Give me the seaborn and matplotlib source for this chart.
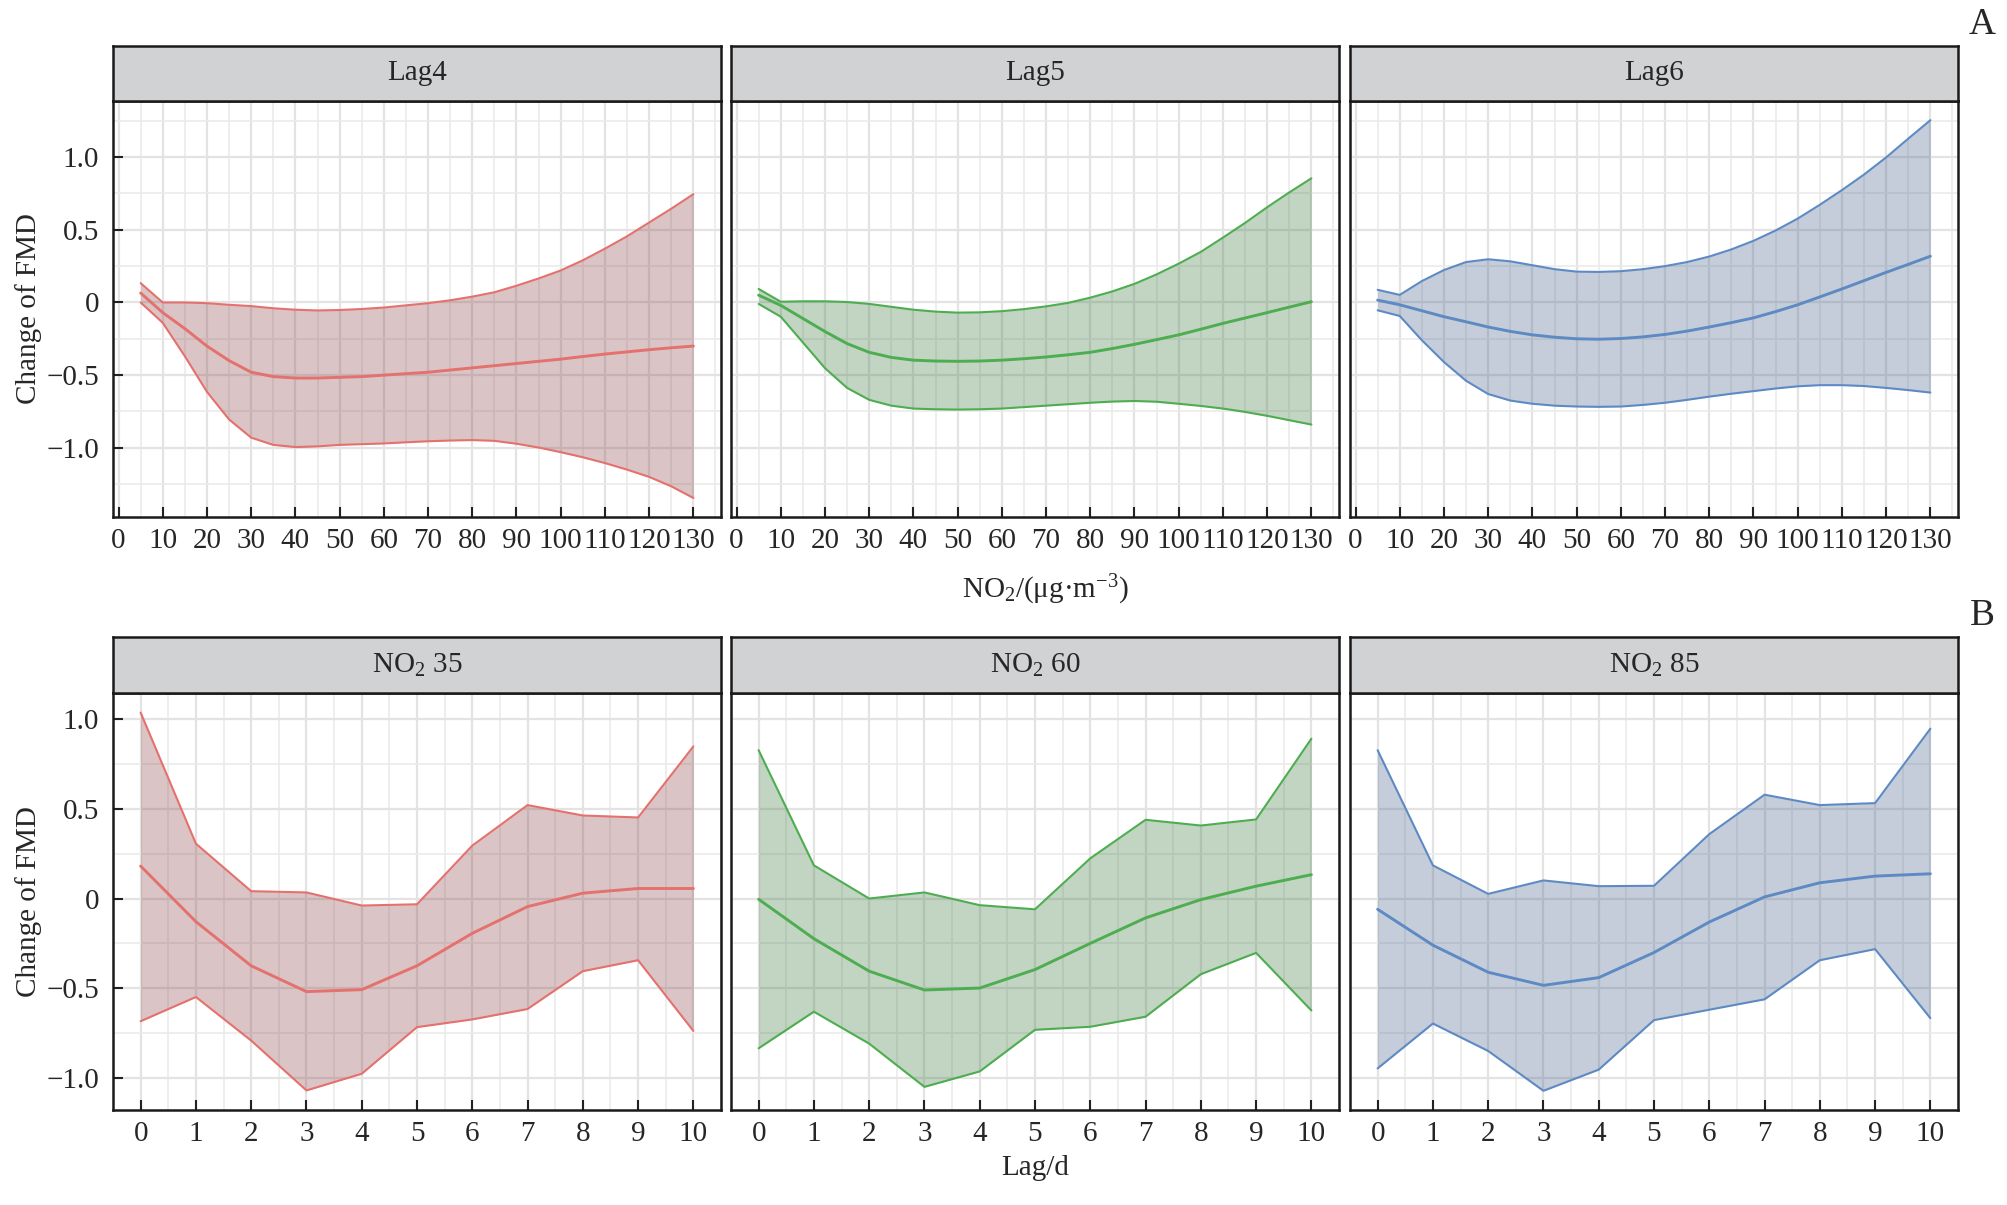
import pandas as pd
import matplotlib
matplotlib.use("Agg")
import matplotlib.pyplot as plt
from matplotlib.ticker import MultipleLocator, FixedLocator, FixedFormatter
import seaborn as sns

# 样式
sns.set_theme(style="white")
plt.rcParams['font.family'] = ['Liberation Serif', 'DejaVu Serif']
plt.rcParams['mathtext.fontset'] = 'custom'
plt.rcParams['mathtext.rm'] = 'Liberation Serif'
plt.rcParams['mathtext.it'] = 'Liberation Serif:italic'
plt.rcParams['axes.unicode_minus'] = True

# ---- A: 暴露-反应曲线 ----
no2_x = [5, 10, 15, 20, 25, 30, 35, 40, 45, 50, 55, 60, 65, 70, 75, 80, 85,
         90, 95, 100, 105, 110, 115, 120, 125, 130]

lag4_hi = [0.133, 0.0, 0.0, -0.005, -0.016, -0.025, -0.04, -0.05, -0.055, -0.052, -0.045, -0.035, -0.02,
           -0.005, 0.015, 0.04, 0.07, 0.115, 0.165, 0.22, 0.29, 0.37, 0.455, 0.55, 0.645, 0.745]
lag4_mid = [0.065, -0.07, -0.18, -0.30, -0.40, -0.48, -0.51, -0.52, -0.52, -0.515, -0.51, -0.50, -0.49,
            -0.48, -0.465, -0.45, -0.435, -0.42, -0.405, -0.39, -0.372, -0.355, -0.34, -0.325, -0.312, -0.30]
lag4_lo = [0.0, -0.14, -0.37, -0.615, -0.805, -0.93, -0.98, -0.995, -0.99, -0.98, -0.975, -0.97, -0.962,
           -0.955, -0.95, -0.947, -0.952, -0.972, -0.998, -1.03, -1.065, -1.105, -1.15, -1.2, -1.265, -1.345]

lag5_hi = [0.093, 0.005, 0.008, 0.008, 0.003, -0.01, -0.03, -0.05, -0.063, -0.07, -0.068, -0.06, -0.046,
           -0.027, -0.003, 0.033, 0.076, 0.128, 0.193, 0.267, 0.348, 0.446, 0.547, 0.655, 0.757, 0.854]
lag5_mid = [0.05, -0.02, -0.11, -0.2, -0.283, -0.343, -0.378, -0.397, -0.403, -0.405, -0.403, -0.397, -0.387,
            -0.375, -0.36, -0.343, -0.317, -0.288, -0.256, -0.223, -0.184, -0.144, -0.107, -0.07, -0.032, 0.005]
lag5_lo = [-0.01, -0.098, -0.275, -0.452, -0.588, -0.67, -0.71, -0.73, -0.735, -0.737, -0.735, -0.73, -0.72,
           -0.71, -0.70, -0.69, -0.682, -0.678, -0.683, -0.697, -0.712, -0.73, -0.753, -0.78, -0.81, -0.84]

lag6_hi = [0.087, 0.052, 0.147, 0.223, 0.278, 0.297, 0.283, 0.256, 0.229, 0.212, 0.21, 0.215, 0.229,
           0.25, 0.278, 0.316, 0.365, 0.424, 0.495, 0.577, 0.672, 0.773, 0.88, 0.998, 1.127, 1.254]
lag6_mid = [0.016, -0.016, -0.057, -0.098, -0.133, -0.169, -0.199, -0.223, -0.239, -0.25, -0.253, -0.248, -0.237,
            -0.22, -0.197, -0.169, -0.139, -0.106, -0.063, -0.016, 0.038, 0.093, 0.15, 0.207, 0.262, 0.318]
lag6_lo = [-0.054, -0.093, -0.26, -0.41, -0.539, -0.63, -0.675, -0.697, -0.71, -0.716, -0.718, -0.716, -0.705,
           -0.69, -0.67, -0.648, -0.628, -0.61, -0.592, -0.577, -0.569, -0.569, -0.575, -0.588, -0.603, -0.62]

# ---- B: 滞后-反应曲线 ----
lag_x = [0, 1, 2, 3, 4, 5, 6, 7, 8, 9, 10]

c35_hi = [1.037, 0.306, 0.041, 0.034, -0.039, -0.032, 0.295, 0.521, 0.463, 0.452, 0.848]
c35_mid = [0.181, -0.129, -0.375, -0.519, -0.508, -0.375, -0.194, -0.045, 0.03, 0.056, 0.056]
c35_lo = [-0.684, -0.549, -0.792, -1.07, -0.977, -0.717, -0.674, -0.616, -0.405, -0.344, -0.738]

c60_hi = [0.827, 0.185, 0.0, 0.034, -0.037, -0.06, 0.224, 0.439, 0.407, 0.441, 0.891]
c60_mid = [-0.004, -0.224, -0.405, -0.51, -0.499, -0.396, -0.25, -0.108, -0.006, 0.069, 0.133]
c60_lo = [-0.835, -0.631, -0.809, -1.05, -0.964, -0.732, -0.715, -0.659, -0.422, -0.303, -0.624]

c85_hi = [0.827, 0.185, 0.026, 0.101, 0.069, 0.071, 0.359, 0.579, 0.521, 0.532, 0.947]
c85_mid = [-0.06, -0.26, -0.411, -0.484, -0.441, -0.301, -0.131, 0.009, 0.088, 0.125, 0.138]
c85_lo = [-0.947, -0.697, -0.85, -1.072, -0.954, -0.678, -0.62, -0.562, -0.344, -0.282, -0.667]

top_titles = ['Lag4', 'Lag5', 'Lag6']
bottom_titles = [r'NO$_2$ 35', r'NO$_2$ 60', r'NO$_2$ 85']
top_xticks = [0, 10, 20, 30, 40, 50, 60, 70, 80, 90, 100, 110, 120, 130]
bottom_xticks = [0, 1, 2, 3, 4, 5, 6, 7, 8, 9, 10]
yticks = [-1.0, -0.5, 0, 0.5, 1.0]
ytick_labels = ['\u22121.0', '\u22120.5', '0', '0.5', '1.0']

line_colors = ['#E4716D', '#4DAD50', '#5E8AC4']
fill_colors = ['#8A3E41', '#347637', '#3E5C84']

W, H = 2008, 1205
col_left = [113, 731, 1350]
col_w = 608
rows = [  # (strip top, panel top, panel bottom)
    (46, 101, 517),
    (637, 693, 1110),
]

fig = plt.figure(figsize=(W / 100, H / 100), dpi=100)
FS = 21


def add_panel(row, col, x, lo, mid, hi, title, xticks, xlim, ylim, minor_x):
    st, pt, pb = rows[row]
    left = col_left[col] / W
    ax = fig.add_axes([left, 1 - pb / H, col_w / W, (pb - pt) / H])
    sax = fig.add_axes([left, 1 - pt / H, col_w / W, (pt - st) / H])

    df = pd.DataFrame({'x': x, 'lo': lo, 'mid': mid, 'hi': hi})
    ax.fill_between(df['x'], df['lo'], df['hi'], color=fill_colors[col], alpha=0.3, lw=0, zorder=2)
    sns.lineplot(data=df, x='x', y='hi', ax=ax, color=line_colors[col], lw=1.5, zorder=3)
    sns.lineplot(data=df, x='x', y='lo', ax=ax, color=line_colors[col], lw=1.5, zorder=3)
    sns.lineplot(data=df, x='x', y='mid', ax=ax, color=line_colors[col], lw=2.1, zorder=4)

    ax.set_xlim(*xlim)
    ax.set_ylim(*ylim)
    ax.xaxis.set_major_locator(FixedLocator(xticks))
    ax.xaxis.set_minor_locator(MultipleLocator(minor_x))
    ax.yaxis.set_major_locator(FixedLocator(yticks))
    ax.yaxis.set_minor_locator(MultipleLocator(0.25))
    ax.set_axisbelow(True)
    ax.grid(which='major', color='#E3E3E3', lw=1.6)
    ax.grid(which='minor', color='#EBEBEB', lw=1.2)
    ax.tick_params(axis='x', which='major', direction='in', length=7.5, width=1.5,
                   color='#222222', labelsize=FS, pad=8, bottom=True)
    ax.tick_params(axis='y', which='major', direction='in', length=7.5, width=1.5,
                   color='#222222', labelsize=FS, pad=10, left=(col == 0))
    ax.tick_params(which='minor', length=0)
    ax.set_xticklabels([str(t) for t in xticks])
    if col == 0:
        ax.yaxis.set_major_formatter(FixedFormatter(ytick_labels))
        ax.set_ylabel('Change of FMD', fontsize=FS, labelpad=3)
    else:
        ax.set_yticklabels([])
        ax.set_ylabel('')
    ax.set_xlabel('')
    for sp in ax.spines.values():
        sp.set_visible(True)
        sp.set_color('#1a1a1a')
        sp.set_linewidth(1.8)

    sax.set_facecolor('#D1D2D4')
    sax.set_xticks([])
    sax.set_yticks([])
    for sp in sax.spines.values():
        sp.set_visible(True)
        sp.set_color('#1a1a1a')
        sp.set_linewidth(1.8)
    sax.text(0.5, 0.5, title, ha='center', va='center', fontsize=FS, transform=sax.transAxes)
    return ax


top_sets = [(lag4_lo, lag4_mid, lag4_hi), (lag5_lo, lag5_mid, lag5_hi), (lag6_lo, lag6_mid, lag6_hi)]
bottom_sets = [(c35_lo, c35_mid, c35_hi), (c60_lo, c60_mid, c60_hi), (c85_lo, c85_mid, c85_hi)]

for i, (lo, mid, hi) in enumerate(top_sets):
    add_panel(0, i, no2_x, lo, mid, hi, top_titles[i], top_xticks,
              (-1.25, 136.25), (-1.476, 1.386), 5)
for i, (lo, mid, hi) in enumerate(bottom_sets):
    add_panel(1, i, lag_x, lo, mid, hi, bottom_titles[i], bottom_xticks,
              (-0.5, 10.5), (-1.179, 1.146), 0.5)

fig.text(1045 / W, 1 - 590 / H, 'NO$_2$/(\u03bcg\u00b7m$^{-3}$)', ha='center', va='center', fontsize=FS)
fig.text(1035 / W, 1 - 1168 / H, 'Lag/d', ha='center', va='center', fontsize=FS)
fig.text(1982 / W, 1 - 25 / H, 'A', ha='center', va='center', fontsize=27)
fig.text(1982 / W, 1 - 616 / H, 'B', ha='center', va='center', fontsize=27)

fig.savefig('out.png', dpi=100, facecolor='white')
